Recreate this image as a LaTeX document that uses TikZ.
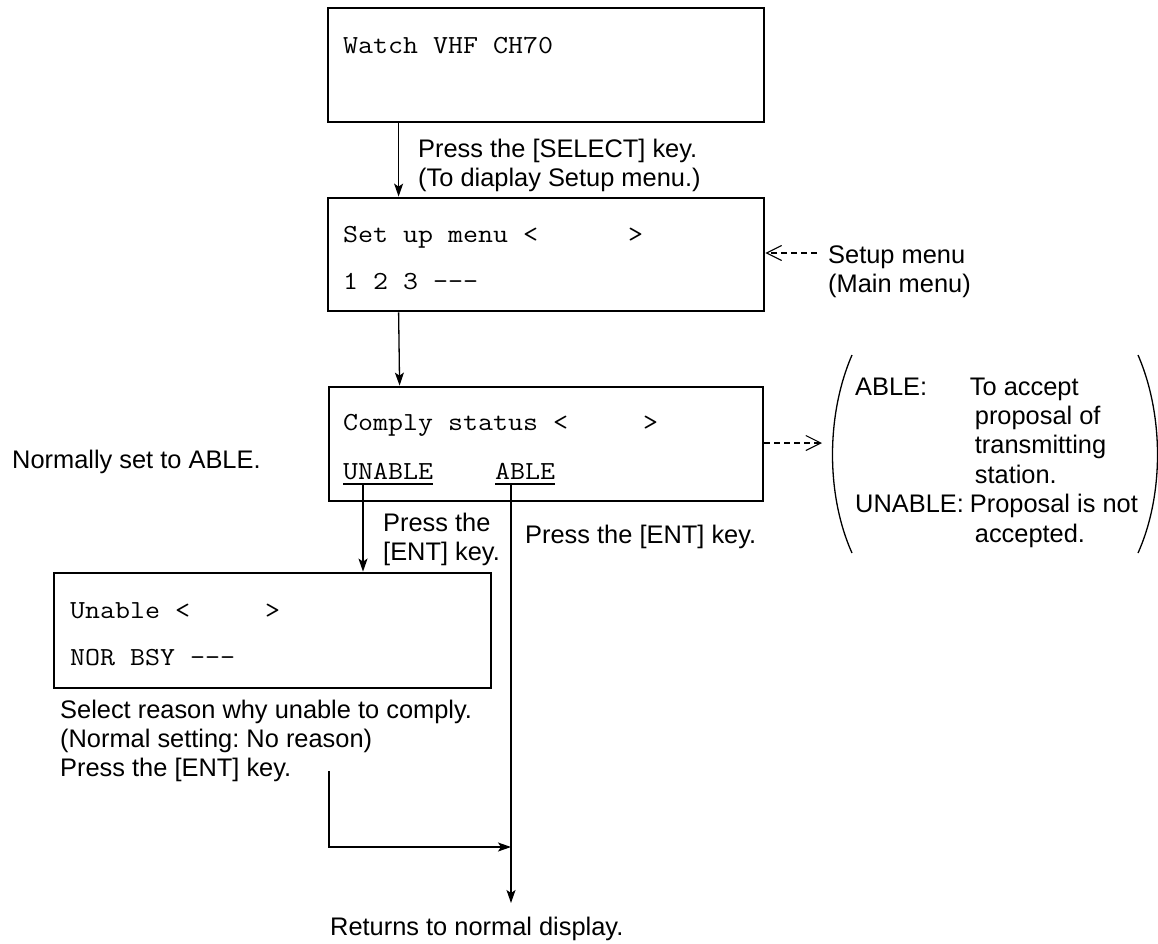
\documentclass[tikz,border=0pt]{standalone}
\usepackage{fontspec}
\usepackage{graphicx}
\setmainfont{Liberation Sans}
\usetikzlibrary{arrows.meta}
\frenchspacing
\newcommand\mylines[1]{\begin{tabular}[t]{@{}l@{}}#1\end{tabular}}
\newcommand\scr[1]{\scalebox{1.12}[1]{#1}}
\begin{document}
\begin{tikzpicture}[x=1pt,y=-1pt,
  screen/.style={draw, line width=2.8pt, inner sep=0pt},
  mono/.style={font=\fontsize{26}{29.4}\ttfamily, anchor=base west, inner sep=0pt},
  lbl/.style={font=\fontsize{25.4}{29.4}\selectfont, anchor=base west, inner sep=0pt},
  arr/.style={line width=1.3pt, -{Stealth[length=13pt,width=9pt,inset=3pt]}},
  darr/.style={line width=1.1pt, dash pattern=on 6pt off 4pt, -{Straight Barb[length=15pt,width=15pt]}},
  uline/.style={line width=1.3pt},
  paren/.style={line width=1.3pt}]
\useasboundingbox (0,0) rectangle (1158,943);

% screens
\node[screen, minimum width=436pt, minimum height=114pt] (watch) at (546,65) {};
\node[screen, minimum width=436pt, minimum height=113pt] (setup) at (546,254.5) {};
\node[screen, minimum width=434pt, minimum height=114pt] (comply) at (546,444) {};
\node[screen, minimum width=437pt, minimum height=115pt] (unable) at (272.5,630.5) {};

% screen texts
\node[mono] (t1) at (343,53) {\scr{Watch VHF CH70}};
\node[mono] (t2) at (343,242) {\scr{Set up menu <~~~~~~>}};
\node[mono] (t3) at (343,289) {\scr{1 2 3 ---}};
\node[mono] (t4) at (343,430) {\scr{Comply status <~~~~~>}};
\node[mono] (unab) at (343,479) {\scr{UNABLE}};
\node[mono] (abl) at (495,479) {\scr{ABLE}};
\node[mono] (t5) at (70,618) {\scr{Unable <~~~~~>}};
\node[mono] (t6) at (70,665) {\scr{NOR BSY ---}};
\draw[uline] ([yshift=-5pt]unab.base west) -- ([yshift=-5pt]unab.base east);
\draw[uline] ([yshift=-5pt]abl.base west) -- ([yshift=-5pt]abl.base east);

% labels
\node[lbl] (l1) at (418,157) {\mylines{Press the [SELECT] key.\\(To diaplay Setup menu.)}};
\node[lbl] (l2) at (828,263) {\mylines{Setup menu\\(Main menu)}};
\node[lbl] (l3) at (12,468) {Normally set to ABLE.};
\node[lbl] (l4) at (383,531) {\mylines{Press the\\{[ENT]} key.}};
\node[lbl] (l5) at (525,543) {Press the [ENT] key.};
\node[lbl] (l6) at (60,718) {\mylines{Select reason why unable to comply.\\(Normal setting: No reason)\\Press the [ENT] key.}};
\node[lbl] (l7) at (330,935) {Returns to normal display.};
\node[lbl] (notes) at (855,395) {\begin{tabular}[t]{@{}l@{\hspace{6pt}}l@{}}
ABLE: & To accept\\
 & \hspace{5pt}proposal of\\
 & \hspace{5pt}transmitting\\
 & \hspace{5pt}station.\\
UNABLE: & Proposal is not\\
 & \hspace{5pt}accepted.
\end{tabular}};

% parentheses
\draw[paren] (852,355) .. controls (826,415) and (826,495) .. (852,553);
\draw[paren] (1138,355) .. controls (1164,415) and (1164,495) .. (1138,553);

% connectors
\draw[arr] ([xshift=72pt]watch.south west) -- ([xshift=72pt]setup.north west);
\draw[arr] ([xshift=72pt]setup.south west) -- ([xshift=72pt]comply.north west);
\draw[arr] ([xshift=20pt,yshift=-5pt]unab.base west) coordinate (u0) -- (u0 |- unable.north);
\coordinate (ret) at (511,903);
\draw[arr] ([xshift=16pt,yshift=-5pt]abl.base west) coordinate (a0) -- (a0 |- ret);
\coordinate (e0) at (329,771);
\coordinate (e1) at (329,847);
\draw[arr] (e0) -- (e1) -- (e1 -| a0);
\coordinate (sm) at (817,253);
\draw[darr] (sm) -- (sm -| setup.east);
\coordinate (pl) at (822,443);
\draw[darr] (comply.east |- pl) -- (pl);
\end{tikzpicture}
\end{document}
